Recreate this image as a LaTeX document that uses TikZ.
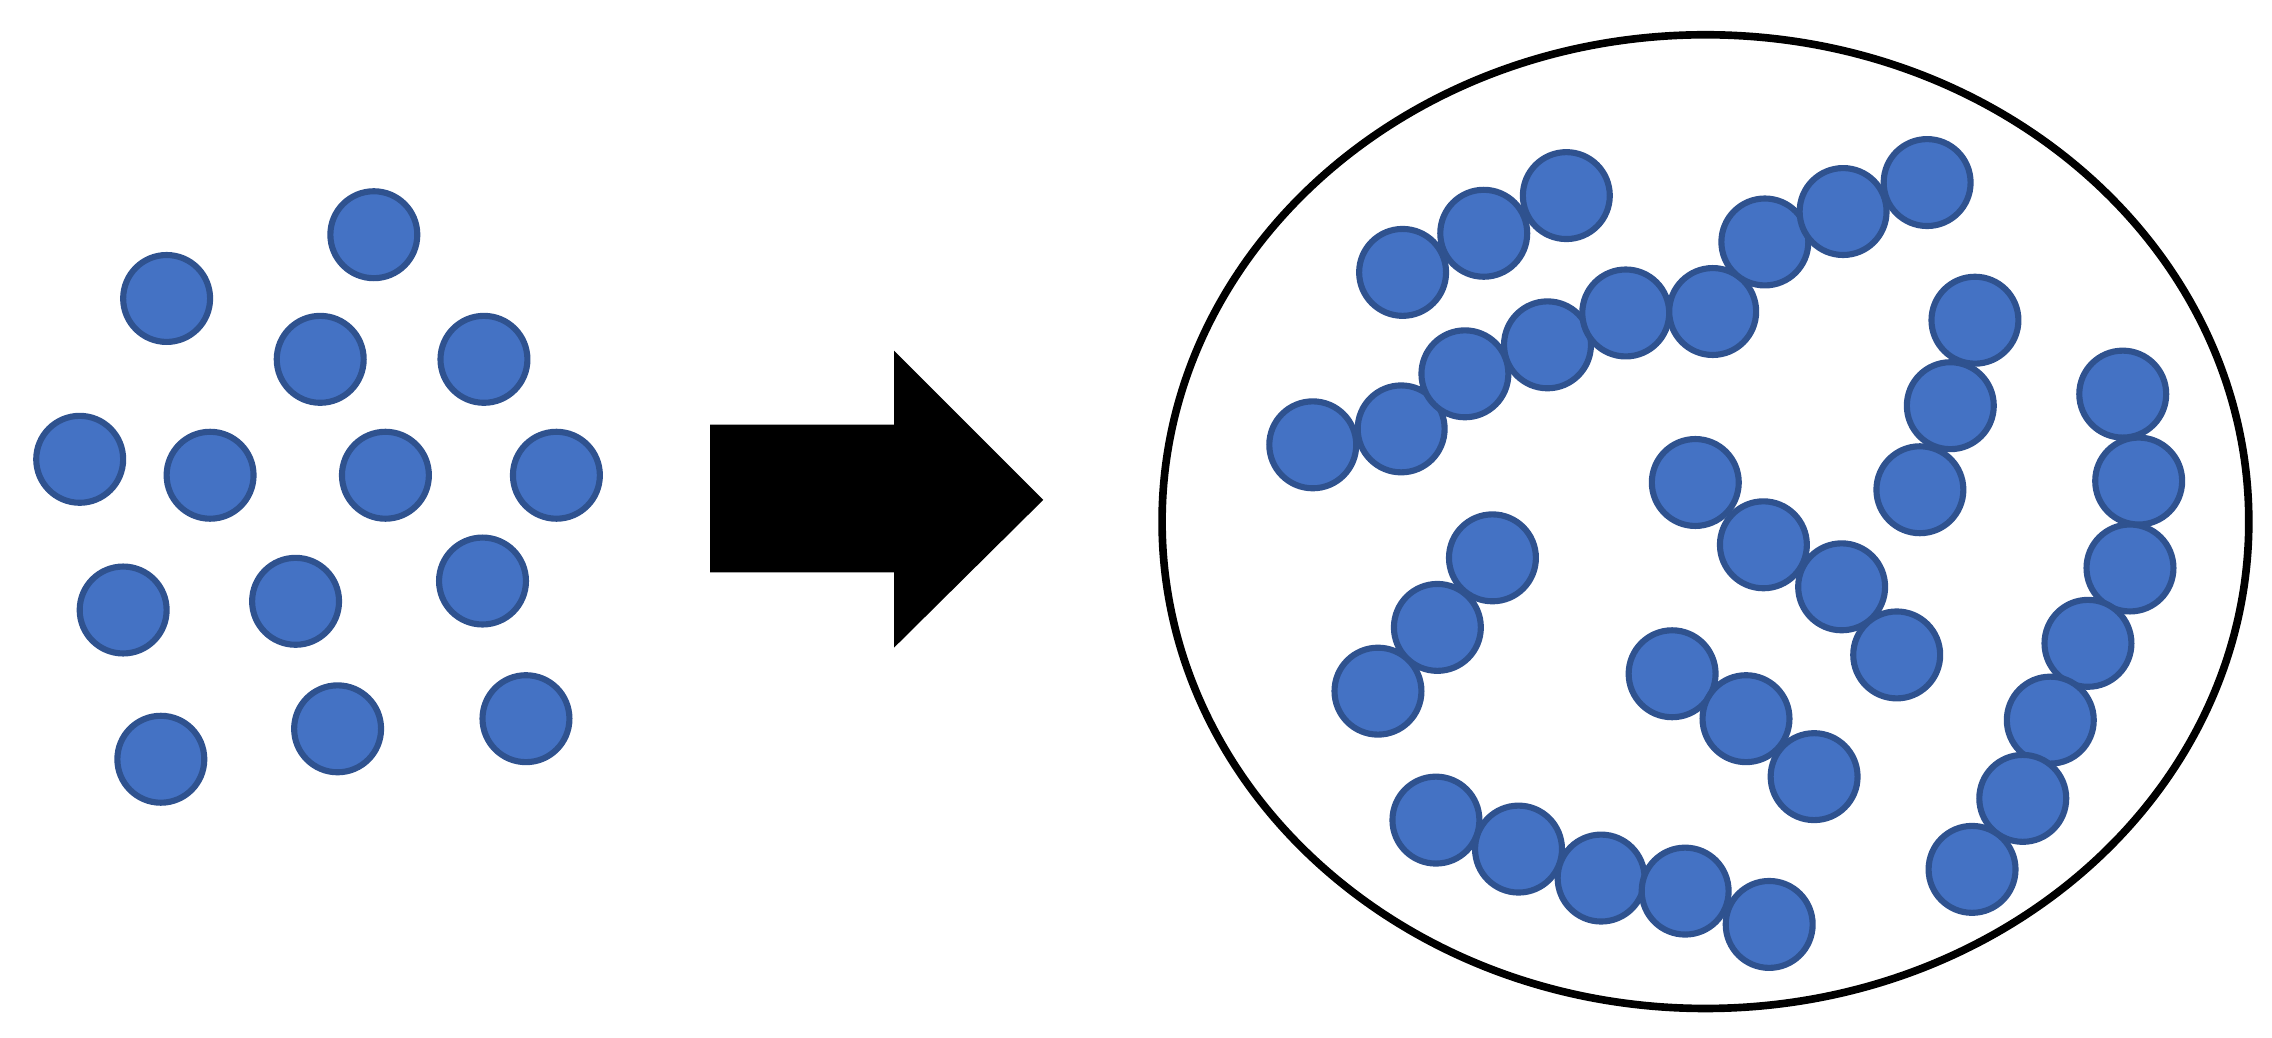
\documentclass[tikz,border=0pt]{standalone}
\definecolor{ball}{HTML}{4472C4}
\definecolor{ballb}{HTML}{2F528F}
\tikzset{ballst/.style={fill=ball,draw=ballb,line width=1.2pt}}
\begin{document}
\begin{tikzpicture}[x=0.01cm,y=-0.01cm]
\useasboundingbox (0,0) rectangle (1568,716);
\foreach \p in {(258,162),(115,206),(221,248),(334,248),(55,317),(145,328),(266,328),(384,328),(85,421),(204,415),(333,401),(111,524),(233,503),(363,496)}
  \draw[ballst] \p circle (30);
\fill[black] (490,293) -- (617,293) -- (617,242) -- (720,345) -- (617,447) -- (617,395) -- (490,395) -- cycle;
\draw[line width=1.5pt] (1177,360) ellipse [x radius=375, y radius=336];
\foreach \p in {(968,188),(1024,161),(1081,135),
(906,307),(967,296),(1011,258),(1068,238),(1122,216),(1182,215),(1218,167),(1272,146),(1330,126),
(1363,221),(1346,280),(1325,338),
(1465,272),(1476,332),(1470,392),(1441,444),(1415,497),(1396,551),(1361,600),
(1170,333),(1217,376),(1271,405),(1309,452),
(1030,385),(992,433),(951,477),
(1154,465),(1205,496),(1252,536),
(991,566),(1048,586),(1105,606),(1163,615),(1221,638)}
  \draw[ballst] \p circle (30);
\end{tikzpicture}
\end{document}
